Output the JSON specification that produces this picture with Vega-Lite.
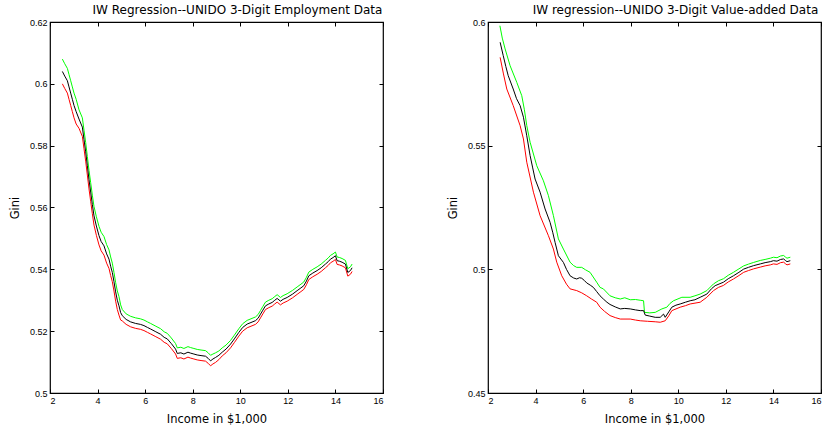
{
"$schema":"https://vega.github.io/schema/vega-lite/v6.json",
"background":"white",
"padding":{"left":8,"top":3,"right":4,"bottom":4},
"bounds":"flush",
"spacing":105,
"config":{"view":{"stroke":"black","strokeWidth":1.2},
"axis":{"domain":false,"grid":false,"tickSize":-4,"tickColor":"black","tickWidth":1,"labelFont":"Liberation Sans","labelFontSize":9,"labelColor":"black","titleFont":"DejaVu Sans","titleFontSize":11.5,"titleFontWeight":"normal","titleColor":"black"}},
"datasets":{
"emp":[
{"series":"upper","income":2.52,"gini":0.608},{"series":"upper","income":2.62,"gini":0.6065},{"series":"upper","income":2.73,"gini":0.605},{"series":"upper","income":2.8,"gini":0.603},{"series":"upper","income":2.87,"gini":0.601},{"series":"upper","income":2.94,"gini":0.599},{"series":"upper","income":3.01,"gini":0.597},{"series":"upper","income":3.1,"gini":0.595},{"series":"upper","income":3.22,"gini":0.5916},{"series":"upper","income":3.36,"gini":0.589},{"series":"upper","income":3.43,"gini":0.585},{"series":"upper","income":3.5,"gini":0.581},{"series":"upper","income":3.57,"gini":0.5765},{"series":"upper","income":3.64,"gini":0.572},{"series":"upper","income":3.71,"gini":0.568},{"series":"upper","income":3.78,"gini":0.564},{"series":"upper","income":3.85,"gini":0.5603},{"series":"upper","income":3.95,"gini":0.557},{"series":"upper","income":4.06,"gini":0.5539},{"series":"upper","income":4.15,"gini":0.552},{"series":"upper","income":4.27,"gini":0.5506},{"series":"upper","income":4.38,"gini":0.548},{"series":"upper","income":4.48,"gini":0.5463},{"series":"upper","income":4.55,"gini":0.544},{"series":"upper","income":4.62,"gini":0.542},{"series":"upper","income":4.69,"gini":0.539},{"series":"upper","income":4.76,"gini":0.5357},{"series":"upper","income":4.83,"gini":0.533},{"series":"upper","income":4.9,"gini":0.5312},{"series":"upper","income":4.97,"gini":0.5285},{"series":"upper","income":5.04,"gini":0.527},{"series":"upper","income":5.2,"gini":0.5256},{"series":"upper","income":5.39,"gini":0.5248},{"series":"upper","income":5.6,"gini":0.5243},{"series":"upper","income":5.8,"gini":0.524},{"series":"upper","income":5.95,"gini":0.5236},{"series":"upper","income":6.1,"gini":0.523},{"series":"upper","income":6.23,"gini":0.5225},{"series":"upper","income":6.45,"gini":0.5216},{"series":"upper","income":6.65,"gini":0.5208},{"series":"upper","income":6.8,"gini":0.5198},{"series":"upper","income":6.93,"gini":0.5193},{"series":"upper","income":7.1,"gini":0.5178},{"series":"upper","income":7.28,"gini":0.516},{"series":"upper","income":7.35,"gini":0.5146},{"series":"upper","income":7.5,"gini":0.5148},{"series":"upper","income":7.63,"gini":0.5144},{"series":"upper","income":7.8,"gini":0.515},{"series":"upper","income":7.91,"gini":0.5147},{"series":"upper","income":8.05,"gini":0.5144},{"series":"upper","income":8.19,"gini":0.5141},{"series":"upper","income":8.35,"gini":0.5139},{"series":"upper","income":8.54,"gini":0.5137},{"series":"upper","income":8.65,"gini":0.513},{"series":"upper","income":8.75,"gini":0.5122},{"series":"upper","income":8.85,"gini":0.5126},{"series":"upper","income":8.96,"gini":0.513},{"series":"upper","income":9.1,"gini":0.5136},{"series":"upper","income":9.24,"gini":0.5146},{"series":"upper","income":9.4,"gini":0.5155},{"series":"upper","income":9.59,"gini":0.517},{"series":"upper","income":9.75,"gini":0.5187},{"series":"upper","income":9.94,"gini":0.5208},{"series":"upper","income":10.1,"gini":0.5224},{"series":"upper","income":10.29,"gini":0.5235},{"series":"upper","income":10.45,"gini":0.524},{"series":"upper","income":10.64,"gini":0.5246},{"series":"upper","income":10.75,"gini":0.5254},{"series":"upper","income":10.85,"gini":0.5267},{"series":"upper","income":10.95,"gini":0.528},{"series":"upper","income":11.06,"gini":0.5294},{"series":"upper","income":11.2,"gini":0.53},{"series":"upper","income":11.34,"gini":0.5305},{"series":"upper","income":11.45,"gini":0.5312},{"series":"upper","income":11.55,"gini":0.5318},{"series":"upper","income":11.69,"gini":0.5309},{"series":"upper","income":11.8,"gini":0.5315},{"series":"upper","income":11.97,"gini":0.5321},{"series":"upper","income":12.2,"gini":0.5332},{"series":"upper","income":12.39,"gini":0.5343},{"series":"upper","income":12.55,"gini":0.5352},{"series":"upper","income":12.67,"gini":0.5359},{"series":"upper","income":12.78,"gini":0.5374},{"series":"upper","income":12.88,"gini":0.5391},{"series":"upper","income":13.05,"gini":0.54},{"series":"upper","income":13.23,"gini":0.5408},{"series":"upper","income":13.4,"gini":0.5417},{"series":"upper","income":13.58,"gini":0.5429},{"series":"upper","income":13.7,"gini":0.5437},{"series":"upper","income":13.79,"gini":0.5445},{"series":"upper","income":13.9,"gini":0.545},{"series":"upper","income":14.0,"gini":0.5456},{"series":"upper","income":14.07,"gini":0.544},{"series":"upper","income":14.18,"gini":0.5438},{"series":"upper","income":14.28,"gini":0.5435},{"series":"upper","income":14.42,"gini":0.5429},{"series":"upper","income":14.52,"gini":0.5402},{"series":"upper","income":14.63,"gini":0.5408},{"series":"upper","income":14.7,"gini":0.5417},
{"series":"lower","income":2.52,"gini":0.6},{"series":"lower","income":2.62,"gini":0.5985},{"series":"lower","income":2.73,"gini":0.597},{"series":"lower","income":2.8,"gini":0.595},{"series":"lower","income":2.87,"gini":0.593},{"series":"lower","income":2.94,"gini":0.591},{"series":"lower","income":3.01,"gini":0.589},{"series":"lower","income":3.1,"gini":0.587},{"series":"lower","income":3.22,"gini":0.5856},{"series":"lower","income":3.36,"gini":0.583},{"series":"lower","income":3.43,"gini":0.579},{"series":"lower","income":3.5,"gini":0.575},{"series":"lower","income":3.57,"gini":0.5705},{"series":"lower","income":3.64,"gini":0.566},{"series":"lower","income":3.71,"gini":0.562},{"series":"lower","income":3.78,"gini":0.558},{"series":"lower","income":3.85,"gini":0.5543},{"series":"lower","income":3.95,"gini":0.551},{"series":"lower","income":4.06,"gini":0.5479},{"series":"lower","income":4.15,"gini":0.546},{"series":"lower","income":4.27,"gini":0.5446},{"series":"lower","income":4.38,"gini":0.542},{"series":"lower","income":4.48,"gini":0.5403},{"series":"lower","income":4.55,"gini":0.538},{"series":"lower","income":4.62,"gini":0.536},{"series":"lower","income":4.69,"gini":0.533},{"series":"lower","income":4.76,"gini":0.5297},{"series":"lower","income":4.83,"gini":0.527},{"series":"lower","income":4.9,"gini":0.5252},{"series":"lower","income":4.97,"gini":0.5236},{"series":"lower","income":5.04,"gini":0.5233},{"series":"lower","income":5.2,"gini":0.5222},{"series":"lower","income":5.39,"gini":0.5214},{"series":"lower","income":5.6,"gini":0.5209},{"series":"lower","income":5.8,"gini":0.5206},{"series":"lower","income":5.95,"gini":0.5202},{"series":"lower","income":6.1,"gini":0.5196},{"series":"lower","income":6.23,"gini":0.5191},{"series":"lower","income":6.45,"gini":0.5182},{"series":"lower","income":6.65,"gini":0.5174},{"series":"lower","income":6.8,"gini":0.5164},{"series":"lower","income":6.93,"gini":0.5159},{"series":"lower","income":7.1,"gini":0.5144},{"series":"lower","income":7.28,"gini":0.5126},{"series":"lower","income":7.35,"gini":0.5112},{"series":"lower","income":7.5,"gini":0.5114},{"series":"lower","income":7.63,"gini":0.511},{"series":"lower","income":7.8,"gini":0.5116},{"series":"lower","income":7.91,"gini":0.5113},{"series":"lower","income":8.05,"gini":0.511},{"series":"lower","income":8.19,"gini":0.5107},{"series":"lower","income":8.35,"gini":0.5105},{"series":"lower","income":8.54,"gini":0.5103},{"series":"lower","income":8.65,"gini":0.5096},{"series":"lower","income":8.75,"gini":0.5088},{"series":"lower","income":8.85,"gini":0.5094},{"series":"lower","income":8.96,"gini":0.5099},{"series":"lower","income":9.1,"gini":0.5108},{"series":"lower","income":9.24,"gini":0.512},{"series":"lower","income":9.4,"gini":0.513},{"series":"lower","income":9.59,"gini":0.5146},{"series":"lower","income":9.75,"gini":0.5163},{"series":"lower","income":9.94,"gini":0.5184},{"series":"lower","income":10.1,"gini":0.52},{"series":"lower","income":10.29,"gini":0.5211},{"series":"lower","income":10.45,"gini":0.5216},{"series":"lower","income":10.64,"gini":0.5222},{"series":"lower","income":10.75,"gini":0.523},{"series":"lower","income":10.85,"gini":0.5243},{"series":"lower","income":10.95,"gini":0.5256},{"series":"lower","income":11.06,"gini":0.527},{"series":"lower","income":11.2,"gini":0.5276},{"series":"lower","income":11.34,"gini":0.5281},{"series":"lower","income":11.45,"gini":0.5288},{"series":"lower","income":11.55,"gini":0.5294},{"series":"lower","income":11.69,"gini":0.5285},{"series":"lower","income":11.8,"gini":0.5291},{"series":"lower","income":11.97,"gini":0.5297},{"series":"lower","income":12.2,"gini":0.5308},{"series":"lower","income":12.39,"gini":0.5319},{"series":"lower","income":12.55,"gini":0.5328},{"series":"lower","income":12.67,"gini":0.5335},{"series":"lower","income":12.78,"gini":0.535},{"series":"lower","income":12.88,"gini":0.5367},{"series":"lower","income":13.05,"gini":0.5376},{"series":"lower","income":13.23,"gini":0.5384},{"series":"lower","income":13.4,"gini":0.5393},{"series":"lower","income":13.58,"gini":0.5405},{"series":"lower","income":13.7,"gini":0.5413},{"series":"lower","income":13.79,"gini":0.5421},{"series":"lower","income":13.9,"gini":0.5426},{"series":"lower","income":14.0,"gini":0.5432},{"series":"lower","income":14.07,"gini":0.5416},{"series":"lower","income":14.18,"gini":0.5414},{"series":"lower","income":14.28,"gini":0.5411},{"series":"lower","income":14.42,"gini":0.5405},{"series":"lower","income":14.52,"gini":0.5378},{"series":"lower","income":14.63,"gini":0.5384},{"series":"lower","income":14.7,"gini":0.5393},
{"series":"mid","income":2.52,"gini":0.604},{"series":"mid","income":2.62,"gini":0.6025},{"series":"mid","income":2.73,"gini":0.601},{"series":"mid","income":2.8,"gini":0.599},{"series":"mid","income":2.87,"gini":0.597},{"series":"mid","income":2.94,"gini":0.595},{"series":"mid","income":3.01,"gini":0.593},{"series":"mid","income":3.1,"gini":0.591},{"series":"mid","income":3.22,"gini":0.5886},{"series":"mid","income":3.36,"gini":0.586},{"series":"mid","income":3.43,"gini":0.582},{"series":"mid","income":3.5,"gini":0.578},{"series":"mid","income":3.57,"gini":0.5735},{"series":"mid","income":3.64,"gini":0.569},{"series":"mid","income":3.71,"gini":0.565},{"series":"mid","income":3.78,"gini":0.561},{"series":"mid","income":3.85,"gini":0.5573},{"series":"mid","income":3.95,"gini":0.554},{"series":"mid","income":4.06,"gini":0.5509},{"series":"mid","income":4.15,"gini":0.549},{"series":"mid","income":4.27,"gini":0.5476},{"series":"mid","income":4.38,"gini":0.545},{"series":"mid","income":4.48,"gini":0.5433},{"series":"mid","income":4.55,"gini":0.541},{"series":"mid","income":4.62,"gini":0.539},{"series":"mid","income":4.69,"gini":0.536},{"series":"mid","income":4.76,"gini":0.5327},{"series":"mid","income":4.83,"gini":0.53},{"series":"mid","income":4.9,"gini":0.5282},{"series":"mid","income":4.97,"gini":0.526},{"series":"mid","income":5.04,"gini":0.525},{"series":"mid","income":5.2,"gini":0.5238},{"series":"mid","income":5.39,"gini":0.523},{"series":"mid","income":5.6,"gini":0.5225},{"series":"mid","income":5.8,"gini":0.5222},{"series":"mid","income":5.95,"gini":0.5218},{"series":"mid","income":6.1,"gini":0.5212},{"series":"mid","income":6.23,"gini":0.5207},{"series":"mid","income":6.45,"gini":0.5198},{"series":"mid","income":6.65,"gini":0.519},{"series":"mid","income":6.8,"gini":0.518},{"series":"mid","income":6.93,"gini":0.5175},{"series":"mid","income":7.1,"gini":0.516},{"series":"mid","income":7.28,"gini":0.5142},{"series":"mid","income":7.35,"gini":0.5128},{"series":"mid","income":7.5,"gini":0.513},{"series":"mid","income":7.63,"gini":0.5126},{"series":"mid","income":7.8,"gini":0.5132},{"series":"mid","income":7.91,"gini":0.5129},{"series":"mid","income":8.05,"gini":0.5126},{"series":"mid","income":8.19,"gini":0.5123},{"series":"mid","income":8.35,"gini":0.5121},{"series":"mid","income":8.54,"gini":0.5119},{"series":"mid","income":8.65,"gini":0.5112},{"series":"mid","income":8.75,"gini":0.5104},{"series":"mid","income":8.85,"gini":0.511},{"series":"mid","income":8.96,"gini":0.5115},{"series":"mid","income":9.1,"gini":0.5122},{"series":"mid","income":9.24,"gini":0.5132},{"series":"mid","income":9.4,"gini":0.5142},{"series":"mid","income":9.59,"gini":0.5158},{"series":"mid","income":9.75,"gini":0.5175},{"series":"mid","income":9.94,"gini":0.5196},{"series":"mid","income":10.1,"gini":0.5212},{"series":"mid","income":10.29,"gini":0.5223},{"series":"mid","income":10.45,"gini":0.5228},{"series":"mid","income":10.64,"gini":0.5234},{"series":"mid","income":10.75,"gini":0.5242},{"series":"mid","income":10.85,"gini":0.5255},{"series":"mid","income":10.95,"gini":0.5268},{"series":"mid","income":11.06,"gini":0.5282},{"series":"mid","income":11.2,"gini":0.5288},{"series":"mid","income":11.34,"gini":0.5293},{"series":"mid","income":11.45,"gini":0.53},{"series":"mid","income":11.55,"gini":0.5306},{"series":"mid","income":11.69,"gini":0.5297},{"series":"mid","income":11.8,"gini":0.5303},{"series":"mid","income":11.97,"gini":0.5309},{"series":"mid","income":12.2,"gini":0.532},{"series":"mid","income":12.39,"gini":0.5331},{"series":"mid","income":12.55,"gini":0.534},{"series":"mid","income":12.67,"gini":0.5347},{"series":"mid","income":12.78,"gini":0.5362},{"series":"mid","income":12.88,"gini":0.5379},{"series":"mid","income":13.05,"gini":0.5388},{"series":"mid","income":13.23,"gini":0.5396},{"series":"mid","income":13.4,"gini":0.5405},{"series":"mid","income":13.58,"gini":0.5417},{"series":"mid","income":13.7,"gini":0.5425},{"series":"mid","income":13.79,"gini":0.5433},{"series":"mid","income":13.9,"gini":0.5438},{"series":"mid","income":14.0,"gini":0.5444},{"series":"mid","income":14.07,"gini":0.5428},{"series":"mid","income":14.18,"gini":0.5426},{"series":"mid","income":14.28,"gini":0.5423},{"series":"mid","income":14.42,"gini":0.5417},{"series":"mid","income":14.52,"gini":0.539},{"series":"mid","income":14.63,"gini":0.5396},{"series":"mid","income":14.7,"gini":0.5405}
],
"va":[
{"series":"upper","income":2.5,"gini":0.5985},{"series":"upper","income":2.6,"gini":0.5935},{"series":"upper","income":2.72,"gini":0.5891},{"series":"upper","income":2.93,"gini":0.5823},{"series":"upper","income":3.21,"gini":0.5756},{"series":"upper","income":3.42,"gini":0.5702},{"series":"upper","income":3.53,"gini":0.5645},{"series":"upper","income":3.63,"gini":0.5581},{"series":"upper","income":3.77,"gini":0.5514},{"series":"upper","income":4.05,"gini":0.5419},{"series":"upper","income":4.33,"gini":0.5358},{"series":"upper","income":4.54,"gini":0.5298},{"series":"upper","income":4.75,"gini":0.5217},{"series":"upper","income":4.96,"gini":0.5123},{"series":"upper","income":5.17,"gini":0.5082},{"series":"upper","income":5.45,"gini":0.5029},{"series":"upper","income":5.6,"gini":0.5015},{"series":"upper","income":5.73,"gini":0.5008},{"series":"upper","income":5.94,"gini":0.5008},{"series":"upper","income":6.1,"gini":0.4998},{"series":"upper","income":6.29,"gini":0.4988},{"series":"upper","income":6.57,"gini":0.4948},{"series":"upper","income":6.71,"gini":0.4927},{"series":"upper","income":6.85,"gini":0.4921},{"series":"upper","income":7.13,"gini":0.4893},{"series":"upper","income":7.35,"gini":0.4885},{"series":"upper","income":7.56,"gini":0.488},{"series":"upper","income":7.75,"gini":0.4885},{"series":"upper","income":7.98,"gini":0.4877},{"series":"upper","income":8.2,"gini":0.4878},{"series":"upper","income":8.4,"gini":0.4875},{"series":"upper","income":8.54,"gini":0.4873},{"series":"upper","income":8.58,"gini":0.4826},{"series":"upper","income":8.8,"gini":0.4824},{"series":"upper","income":9.03,"gini":0.4826},{"series":"upper","income":9.31,"gini":0.484},{"series":"upper","income":9.52,"gini":0.4847},{"series":"upper","income":9.65,"gini":0.4862},{"series":"upper","income":9.8,"gini":0.4873},{"series":"upper","income":10.15,"gini":0.4887},{"series":"upper","income":10.5,"gini":0.4887},{"series":"upper","income":10.7,"gini":0.4893},{"series":"upper","income":10.92,"gini":0.49},{"series":"upper","income":11.2,"gini":0.4914},{"series":"upper","income":11.48,"gini":0.4941},{"series":"upper","income":11.69,"gini":0.4954},{"series":"upper","income":11.9,"gini":0.4962},{"series":"upper","income":12.1,"gini":0.4976},{"series":"upper","income":12.32,"gini":0.4988},{"series":"upper","income":12.55,"gini":0.5002},{"series":"upper","income":12.75,"gini":0.5014},{"series":"upper","income":12.95,"gini":0.5021},{"series":"upper","income":13.17,"gini":0.5028},{"series":"upper","income":13.45,"gini":0.5036},{"series":"upper","income":13.65,"gini":0.504},{"series":"upper","income":13.87,"gini":0.5045},{"series":"upper","income":14.0,"gini":0.5049},{"series":"upper","income":14.15,"gini":0.5047},{"series":"upper","income":14.3,"gini":0.5054},{"series":"upper","income":14.43,"gini":0.5056},{"series":"upper","income":14.5,"gini":0.505},{"series":"upper","income":14.57,"gini":0.5045},{"series":"upper","income":14.71,"gini":0.5049},
{"series":"lower","income":2.51,"gini":0.5857},{"series":"lower","income":2.65,"gini":0.579},{"series":"lower","income":2.79,"gini":0.5729},{"series":"lower","income":3.06,"gini":0.5662},{"series":"lower","income":3.35,"gini":0.5581},{"series":"lower","income":3.49,"gini":0.5527},{"series":"lower","income":3.63,"gini":0.5433},{"series":"lower","income":3.91,"gini":0.5312},{"series":"lower","income":4.19,"gini":0.5217},{"series":"lower","income":4.54,"gini":0.5136},{"series":"lower","income":4.75,"gini":0.5082},{"series":"lower","income":4.89,"gini":0.5029},{"series":"lower","income":5.1,"gini":0.4974},{"series":"lower","income":5.3,"gini":0.494},{"series":"lower","income":5.45,"gini":0.4921},{"series":"lower","income":5.73,"gini":0.4914},{"series":"lower","income":5.94,"gini":0.4905},{"series":"lower","income":6.15,"gini":0.4893},{"series":"lower","income":6.35,"gini":0.488},{"series":"lower","income":6.57,"gini":0.4867},{"series":"lower","income":6.71,"gini":0.4847},{"series":"lower","income":6.9,"gini":0.483},{"series":"lower","income":7.13,"gini":0.4813},{"series":"lower","income":7.35,"gini":0.4805},{"series":"lower","income":7.56,"gini":0.4799},{"series":"lower","income":7.98,"gini":0.4799},{"series":"lower","income":8.2,"gini":0.4795},{"series":"lower","income":8.4,"gini":0.4792},{"series":"lower","income":8.7,"gini":0.479},{"series":"lower","income":9.03,"gini":0.4788},{"series":"lower","income":9.24,"gini":0.4786},{"series":"lower","income":9.45,"gini":0.4792},{"series":"lower","income":9.6,"gini":0.4812},{"series":"lower","income":9.73,"gini":0.4833},{"series":"lower","income":10.08,"gini":0.4847},{"series":"lower","income":10.3,"gini":0.4853},{"series":"lower","income":10.5,"gini":0.486},{"series":"lower","income":10.92,"gini":0.4867},{"series":"lower","income":11.2,"gini":0.4887},{"series":"lower","income":11.48,"gini":0.4914},{"series":"lower","income":11.69,"gini":0.4927},{"series":"lower","income":11.9,"gini":0.4935},{"series":"lower","income":12.1,"gini":0.4949},{"series":"lower","income":12.32,"gini":0.4961},{"series":"lower","income":12.55,"gini":0.4975},{"series":"lower","income":12.75,"gini":0.4988},{"series":"lower","income":12.95,"gini":0.4995},{"series":"lower","income":13.17,"gini":0.5002},{"series":"lower","income":13.45,"gini":0.5009},{"series":"lower","income":13.65,"gini":0.5014},{"series":"lower","income":13.87,"gini":0.5018},{"series":"lower","income":14.0,"gini":0.5022},{"series":"lower","income":14.15,"gini":0.502},{"series":"lower","income":14.3,"gini":0.5027},{"series":"lower","income":14.43,"gini":0.5029},{"series":"lower","income":14.5,"gini":0.5023},{"series":"lower","income":14.57,"gini":0.5018},{"series":"lower","income":14.71,"gini":0.5022},
{"series":"mid","income":2.51,"gini":0.5918},{"series":"mid","income":2.64,"gini":0.5864},{"series":"mid","income":2.75,"gini":0.582},{"series":"mid","income":2.85,"gini":0.5783},{"series":"mid","income":3.06,"gini":0.5729},{"series":"mid","income":3.2,"gini":0.569},{"series":"mid","income":3.35,"gini":0.5662},{"series":"mid","income":3.49,"gini":0.5615},{"series":"mid","income":3.63,"gini":0.554},{"series":"mid","income":3.77,"gini":0.546},{"series":"mid","income":3.88,"gini":0.541},{"series":"mid","income":3.98,"gini":0.5365},{"series":"mid","income":4.19,"gini":0.5312},{"series":"mid","income":4.4,"gini":0.5244},{"series":"mid","income":4.61,"gini":0.519},{"series":"mid","income":4.72,"gini":0.515},{"series":"mid","income":4.82,"gini":0.5109},{"series":"mid","income":4.96,"gini":0.5055},{"series":"mid","income":5.17,"gini":0.5028},{"series":"mid","income":5.3,"gini":0.5},{"series":"mid","income":5.45,"gini":0.4974},{"series":"mid","income":5.6,"gini":0.4965},{"series":"mid","income":5.73,"gini":0.4961},{"series":"mid","income":5.85,"gini":0.4966},{"series":"mid","income":5.94,"gini":0.4964},{"series":"mid","income":6.05,"gini":0.4955},{"series":"mid","income":6.15,"gini":0.4945},{"series":"mid","income":6.3,"gini":0.4936},{"series":"mid","income":6.43,"gini":0.4927},{"series":"mid","income":6.57,"gini":0.491},{"series":"mid","income":6.71,"gini":0.4893},{"series":"mid","income":6.85,"gini":0.488},{"series":"mid","income":7.0,"gini":0.4867},{"series":"mid","income":7.13,"gini":0.4858},{"series":"mid","income":7.35,"gini":0.4848},{"series":"mid","income":7.56,"gini":0.484},{"series":"mid","income":7.75,"gini":0.4842},{"series":"mid","income":7.98,"gini":0.484},{"series":"mid","income":8.2,"gini":0.4836},{"series":"mid","income":8.4,"gini":0.4833},{"series":"mid","income":8.54,"gini":0.4833},{"series":"mid","income":8.61,"gini":0.4815},{"series":"mid","income":8.8,"gini":0.4811},{"series":"mid","income":9.03,"gini":0.4806},{"series":"mid","income":9.24,"gini":0.4806},{"series":"mid","income":9.38,"gini":0.4819},{"series":"mid","income":9.45,"gini":0.4806},{"series":"mid","income":9.6,"gini":0.4828},{"series":"mid","income":9.73,"gini":0.4847},{"series":"mid","income":9.9,"gini":0.4855},{"series":"mid","income":10.08,"gini":0.486},{"series":"mid","income":10.3,"gini":0.4867},{"series":"mid","income":10.5,"gini":0.4873},{"series":"mid","income":10.7,"gini":0.4877},{"series":"mid","income":10.92,"gini":0.4887},{"series":"mid","income":11.2,"gini":0.49},{"series":"mid","income":11.4,"gini":0.4922},{"series":"mid","income":11.55,"gini":0.4934},{"series":"mid","income":11.75,"gini":0.4942},{"series":"mid","income":11.9,"gini":0.4948},{"series":"mid","income":12.1,"gini":0.4962},{"series":"mid","income":12.32,"gini":0.4974},{"series":"mid","income":12.55,"gini":0.4988},{"series":"mid","income":12.75,"gini":0.5001},{"series":"mid","income":12.95,"gini":0.5008},{"series":"mid","income":13.17,"gini":0.5015},{"series":"mid","income":13.45,"gini":0.5022},{"series":"mid","income":13.65,"gini":0.5027},{"series":"mid","income":13.87,"gini":0.5031},{"series":"mid","income":14.0,"gini":0.5035},{"series":"mid","income":14.15,"gini":0.5033},{"series":"mid","income":14.3,"gini":0.504},{"series":"mid","income":14.43,"gini":0.5042},{"series":"mid","income":14.5,"gini":0.5036},{"series":"mid","income":14.57,"gini":0.5031},{"series":"mid","income":14.71,"gini":0.5035}
]},
"hconcat":[
{"width":333,"height":371,"data":{"name":"emp"},
"title":{"text":"IW Regression--UNIDO 3-Digit Employment Data","anchor":"middle","frame":"group","dx":21,"offset":1,"font":"DejaVu Sans","fontSize":12,"fontWeight":"normal","color":"black"},
"layer":[
{"mark":{"type":"line","strokeWidth":1},
"encoding":{
"x":{"field":"income","type":"quantitative","scale":{"domain":[2,16],"nice":false,"zero":false},"axis":{"orient":"bottom","values":[2,4,6,8,10,12,14,16],"format":"d","labelPadding":7,"title":"Income in $1,000","titlePadding":8}},
"y":{"field":"gini","type":"quantitative","scale":{"domain":[0.5,0.62],"nice":false,"zero":false},"axis":{"orient":"left","values":[0.5,0.52,0.54,0.56,0.58,0.6,0.62],"format":"~g","labelPadding":7,"title":"Gini","titlePadding":9}},
"color":{"field":"series","type":"nominal","scale":{"domain":["upper","mid","lower"],"range":["#00ff00","#000000","#ff0000"]},"legend":null}}},
{"mark":{"type":"point","opacity":0},
"encoding":{
"x":{"field":"income","type":"quantitative","axis":{"orient":"top","values":[2,4,6,8,10,12,14,16],"labels":false,"title":null}},
"y":{"field":"gini","type":"quantitative","axis":{"orient":"right","values":[0.5,0.52,0.54,0.56,0.58,0.6,0.62],"labels":false,"title":null}}}}
],
"resolve":{"axis":{"x":"independent","y":"independent"}}},
{"width":333,"height":371,"data":{"name":"va"},
"title":{"text":"IW regression--UNIDO 3-Digit Value-added Data","anchor":"middle","frame":"group","dx":21,"offset":1,"font":"DejaVu Sans","fontSize":12,"fontWeight":"normal","color":"black"},
"layer":[
{"mark":{"type":"line","strokeWidth":1},
"encoding":{
"x":{"field":"income","type":"quantitative","scale":{"domain":[2,16],"nice":false,"zero":false},"axis":{"orient":"bottom","values":[2,4,6,8,10,12,14,16],"format":"d","labelPadding":7,"title":"Income in $1,000","titlePadding":8}},
"y":{"field":"gini","type":"quantitative","scale":{"domain":[0.45,0.6],"nice":false,"zero":false},"axis":{"orient":"left","values":[0.45,0.5,0.55,0.6],"format":"~g","labelPadding":7,"title":"Gini","titlePadding":9}},
"color":{"field":"series","type":"nominal","scale":{"domain":["upper","mid","lower"],"range":["#00ff00","#000000","#ff0000"]},"legend":null}}},
{"mark":{"type":"point","opacity":0},
"encoding":{
"x":{"field":"income","type":"quantitative","axis":{"orient":"top","values":[2,4,6,8,10,12,14,16],"labels":false,"title":null}},
"y":{"field":"gini","type":"quantitative","axis":{"orient":"right","values":[0.45,0.5,0.55,0.6],"labels":false,"title":null}}}}
],
"resolve":{"axis":{"x":"independent","y":"independent"}}}
]}
